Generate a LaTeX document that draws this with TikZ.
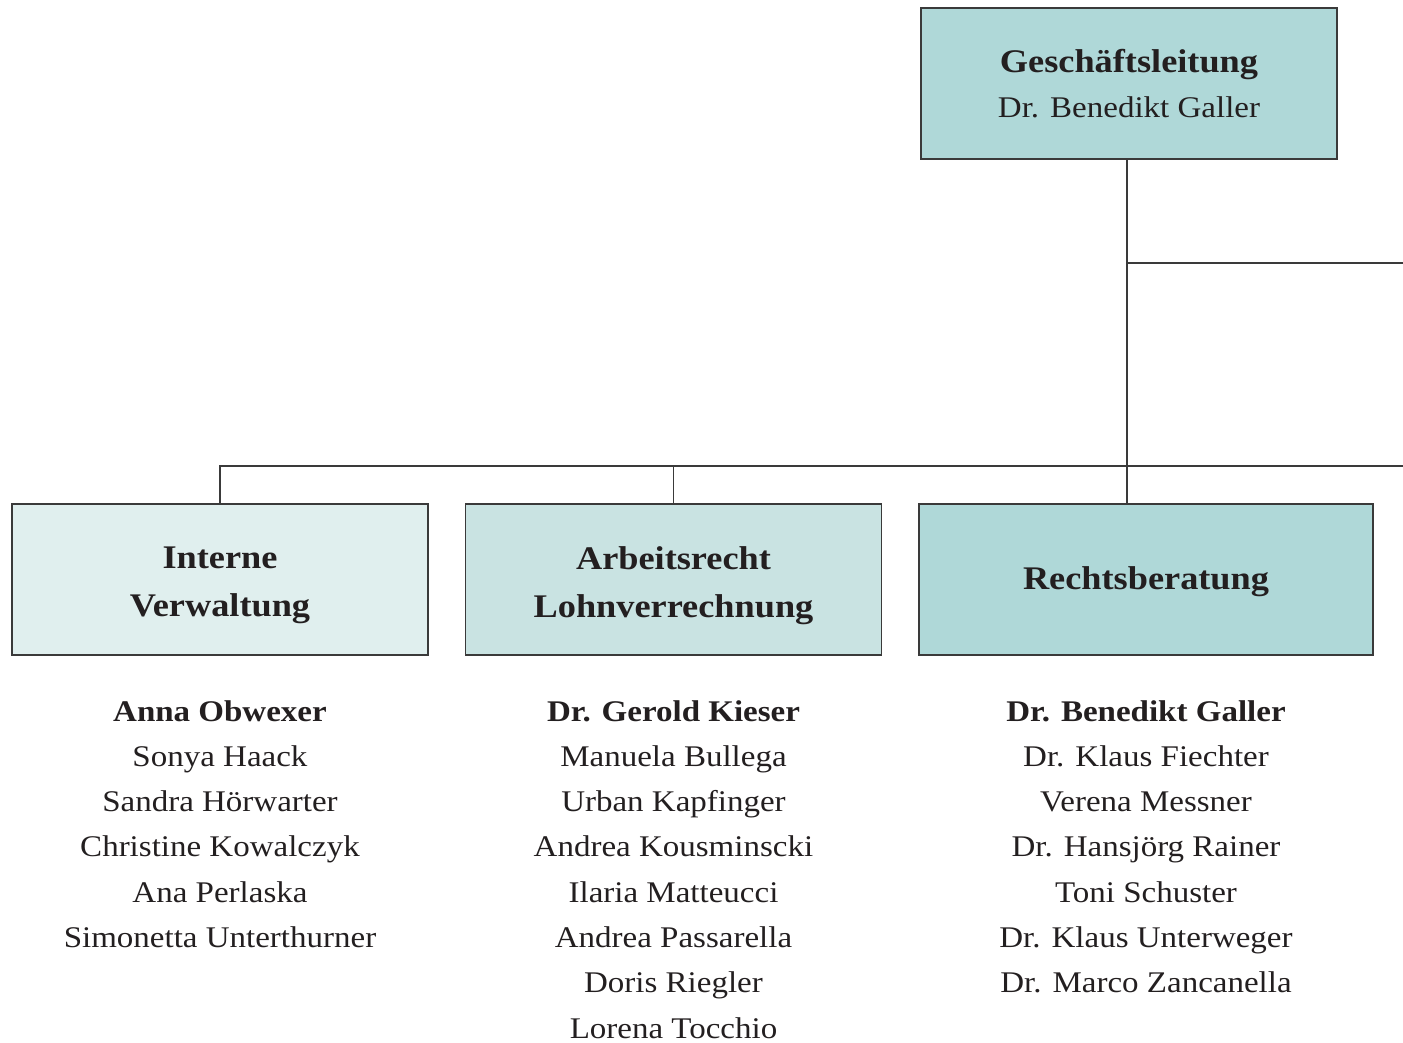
\documentclass[tikz,border=0pt]{standalone}
\usepackage{fontspec}
\setmainfont[FakeStretch=1.1]{Liberation Serif}
\definecolor{txt}{HTML}{231F20}
\definecolor{lineC}{HTML}{3A3A3A}
\definecolor{tealA}{HTML}{AFD8D8}
\definecolor{tealB}{HTML}{C9E3E2}
\definecolor{tealC}{HTML}{E0EFEE}
\tikzset{
  unitbox/.style={draw=lineC, line width=1.3pt, minimum height=151pt, inner sep=0pt, align=center, text=txt, font=\fontsize{33}{48}\selectfont\bfseries},
  boxtext/.style={inner sep=0pt, align=center, text=txt, font=\fontsize{33}{48}\selectfont\bfseries},
  conn/.style={draw=lineC, line width=1.3pt},
  person/.style={anchor=base, text=txt, inner sep=0pt, font=\fontsize{30}{34}\selectfont},
  lead/.style={person, font=\fontsize{30}{34}\selectfont\bfseries}
}
\begin{document}
\begin{tikzpicture}[x=1pt,y=-1pt]
\useasboundingbox (0,0) rectangle (1403,1043);
\node[unitbox, fill=tealA, minimum width=416pt] (gl) at (1129,83.5) {Geschäftsleitung\\[-3pt]{\mdseries\fontsize{30}{34}\selectfont Dr. Benedikt Galler}};
\node[unitbox, fill=tealC, minimum width=416pt] (iv) at (220,579.5) {};
\node[unitbox, fill=tealB, minimum width=416pt] (al) at (673.5,579.5) {};
\node[unitbox, fill=tealA, minimum width=454pt] (rb) at (1146,579.5) {};
\node[boxtext] (ivt) at ([yshift=-6pt]iv.center) {Interne\\Verwaltung};
\node[boxtext] (alt) at ([yshift=-6pt]al.center) {Arbeitsrecht\\Lohnverrechnung};
\node[boxtext] (rbt) at ([yshift=-2pt]rb.center) {Rechtsberatung};
\coordinate (edgeA) at (1403,263);
\coordinate (edgeB) at (1403,466);
\coordinate (glout) at ([xshift=-2pt]gl.south);
\draw[conn] (glout) -- (glout |- rb.north);
\draw[conn] (glout |- edgeA) -- (edgeA);
\draw[conn] (iv.north) -- (iv.north |- edgeB) -- (edgeB);
\draw[conn] (al.north) -- (al.north |- edgeB);
% staff lists
\node[lead] (p10) at (220,721) {Anna Obwexer};
\foreach \n [count=\i] in {Sonya Haack, Sandra Hörwarter, Christine Kowalczyk, Ana Perlaska, Simonetta Unterthurner}
  \node[person] (p1\i) at (220,721+45.3*\i) {\n};
\node[lead] (p20) at (673.5,721) {Dr. Gerold Kieser};
\foreach \n [count=\i] in {Manuela Bullega, Urban Kapfinger, Andrea Kousminscki, Ilaria Matteucci, Andrea Passarella, Doris Riegler, Lorena Tocchio}
  \node[person] (p2\i) at (673.5,721+45.3*\i) {\n};
\node[lead] (p30) at (1146,721) {Dr. Benedikt Galler};
\foreach \n [count=\i] in {Dr. Klaus Fiechter, Verena Messner, Dr. Hansjörg Rainer, Toni Schuster, Dr. Klaus Unterweger, Dr. Marco Zancanella}
  \node[person] (p3\i) at (1146,721+45.3*\i) {\n};
\end{tikzpicture}
\end{document}
